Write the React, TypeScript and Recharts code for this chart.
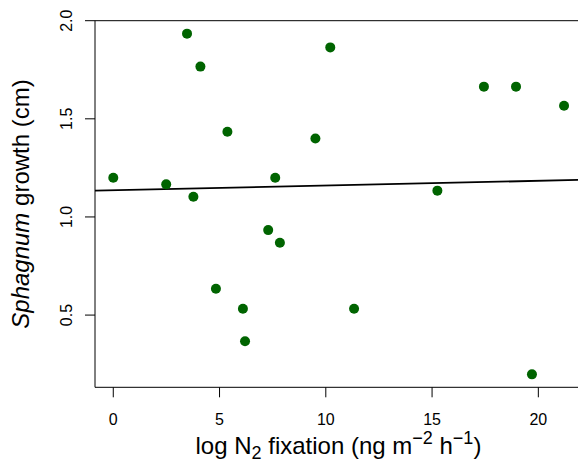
import React from 'react';
import { ScatterChart, Scatter, XAxis, YAxis, ReferenceLine } from 'recharts';

// N2 fixation (x) vs Sphagnum growth (y)
const fixation = [0, 2.49, 3.47, 3.77, 4.1, 5.37, 7.62, 9.51, 10.21, 15.25, 17.44, 18.95, 21.21, 7.29, 7.84, 4.83, 6.1, 11.33, 6.2, 19.7];
const growth = [1.2, 1.166, 1.934, 1.103, 1.766, 1.434, 1.2, 1.4, 1.864, 1.134, 1.664, 1.664, 1.567, 0.933, 0.869, 0.634, 0.532, 0.532, 0.367, 0.198];

// fitted line end points
const fitX = [-0.86, 22.05];
const fitY = [1.134, 1.189];

const xTicks = [0, 5, 10, 15, 20];
const yTicks = [0.5, 1.0, 1.5, 2.0];

const points = fixation.map((x, i) => ({ x, y: growth[i] }));

const FONT = '"Liberation Sans", Arial, Helvetica, sans-serif';

const Dot = (props: any) => <circle cx={props.cx} cy={props.cy} r={5} fill="#006400" />;

const YTick = (props: any) => {
  const { x, y, payload } = props;
  return (
    <text transform={`translate(${x},${y}) rotate(-90)`} textAnchor="middle" fontSize={16} fontFamily={FONT} fill="#000">
      {Number(payload.value).toFixed(1)}
    </text>
  );
};

const XTitle = (props: any) => {
  const vb = props.viewBox;
  const cx = vb.x + vb.width / 2;
  return (
    <text x={cx} y={454.3} textAnchor="middle" fontSize={24} fontFamily={FONT} fill="#000">
      log N
      <tspan fontSize={18} dy={5}>2</tspan>
      <tspan dy={-5}> fixation (ng m</tspan>
      <tspan fontSize={18} dy={-10}>−2</tspan>
      <tspan dy={10}> h</tspan>
      <tspan fontSize={18} dy={-10}>−1</tspan>
      <tspan dy={10}>)</tspan>
    </text>
  );
};

const YTitle = (props: any) => {
  const vb = props.viewBox;
  const cy = vb.y + vb.height / 2;
  return (
    <text transform={`translate(28.7,${cy}) rotate(-90)`} textAnchor="middle" fontSize={24} fontFamily={FONT} fill="#000">
      <tspan fontStyle="italic">Sphagnum</tspan>
      <tspan> growth (cm)</tspan>
    </text>
  );
};

export default function App() {
  return (
    <div style={{ position: 'absolute', left: 0, top: 0, width: 578, height: 463, overflow: 'hidden', background: '#fff' }}>
      <ScatterChart width={600} height={463} margin={{ top: 20.7, right: 18.1, bottom: 0, left: 0 }}>
        <XAxis
          type="number"
          dataKey="x"
          domain={[-0.86, 22.05]}
          allowDataOverflow
          ticks={xTicks}
          tickSize={10}
          tickMargin={16}
          height={75.7}
          stroke="#000"
          tick={{ fill: '#000', fontSize: 16, fontFamily: FONT }}
          label={{ content: XTitle }}
        />
        <YAxis
          type="number"
          dataKey="y"
          domain={[0.132, 2.0]}
          allowDataOverflow
          ticks={yTicks}
          tickSize={10}
          tickMargin={13}
          width={95}
          stroke="#000"
          tick={YTick}
          label={{ content: YTitle }}
        />
        <ReferenceLine y={2.0} stroke="#000" strokeWidth={1} />
        <ReferenceLine
          segment={[{ x: fitX[0], y: fitY[0] }, { x: fitX[1], y: fitY[1] }]}
          stroke="#000"
          strokeWidth={1.8}
          ifOverflow="visible"
        />
        <Scatter data={points} shape={Dot} isAnimationActive={false} />
      </ScatterChart>
    </div>
  );
}
